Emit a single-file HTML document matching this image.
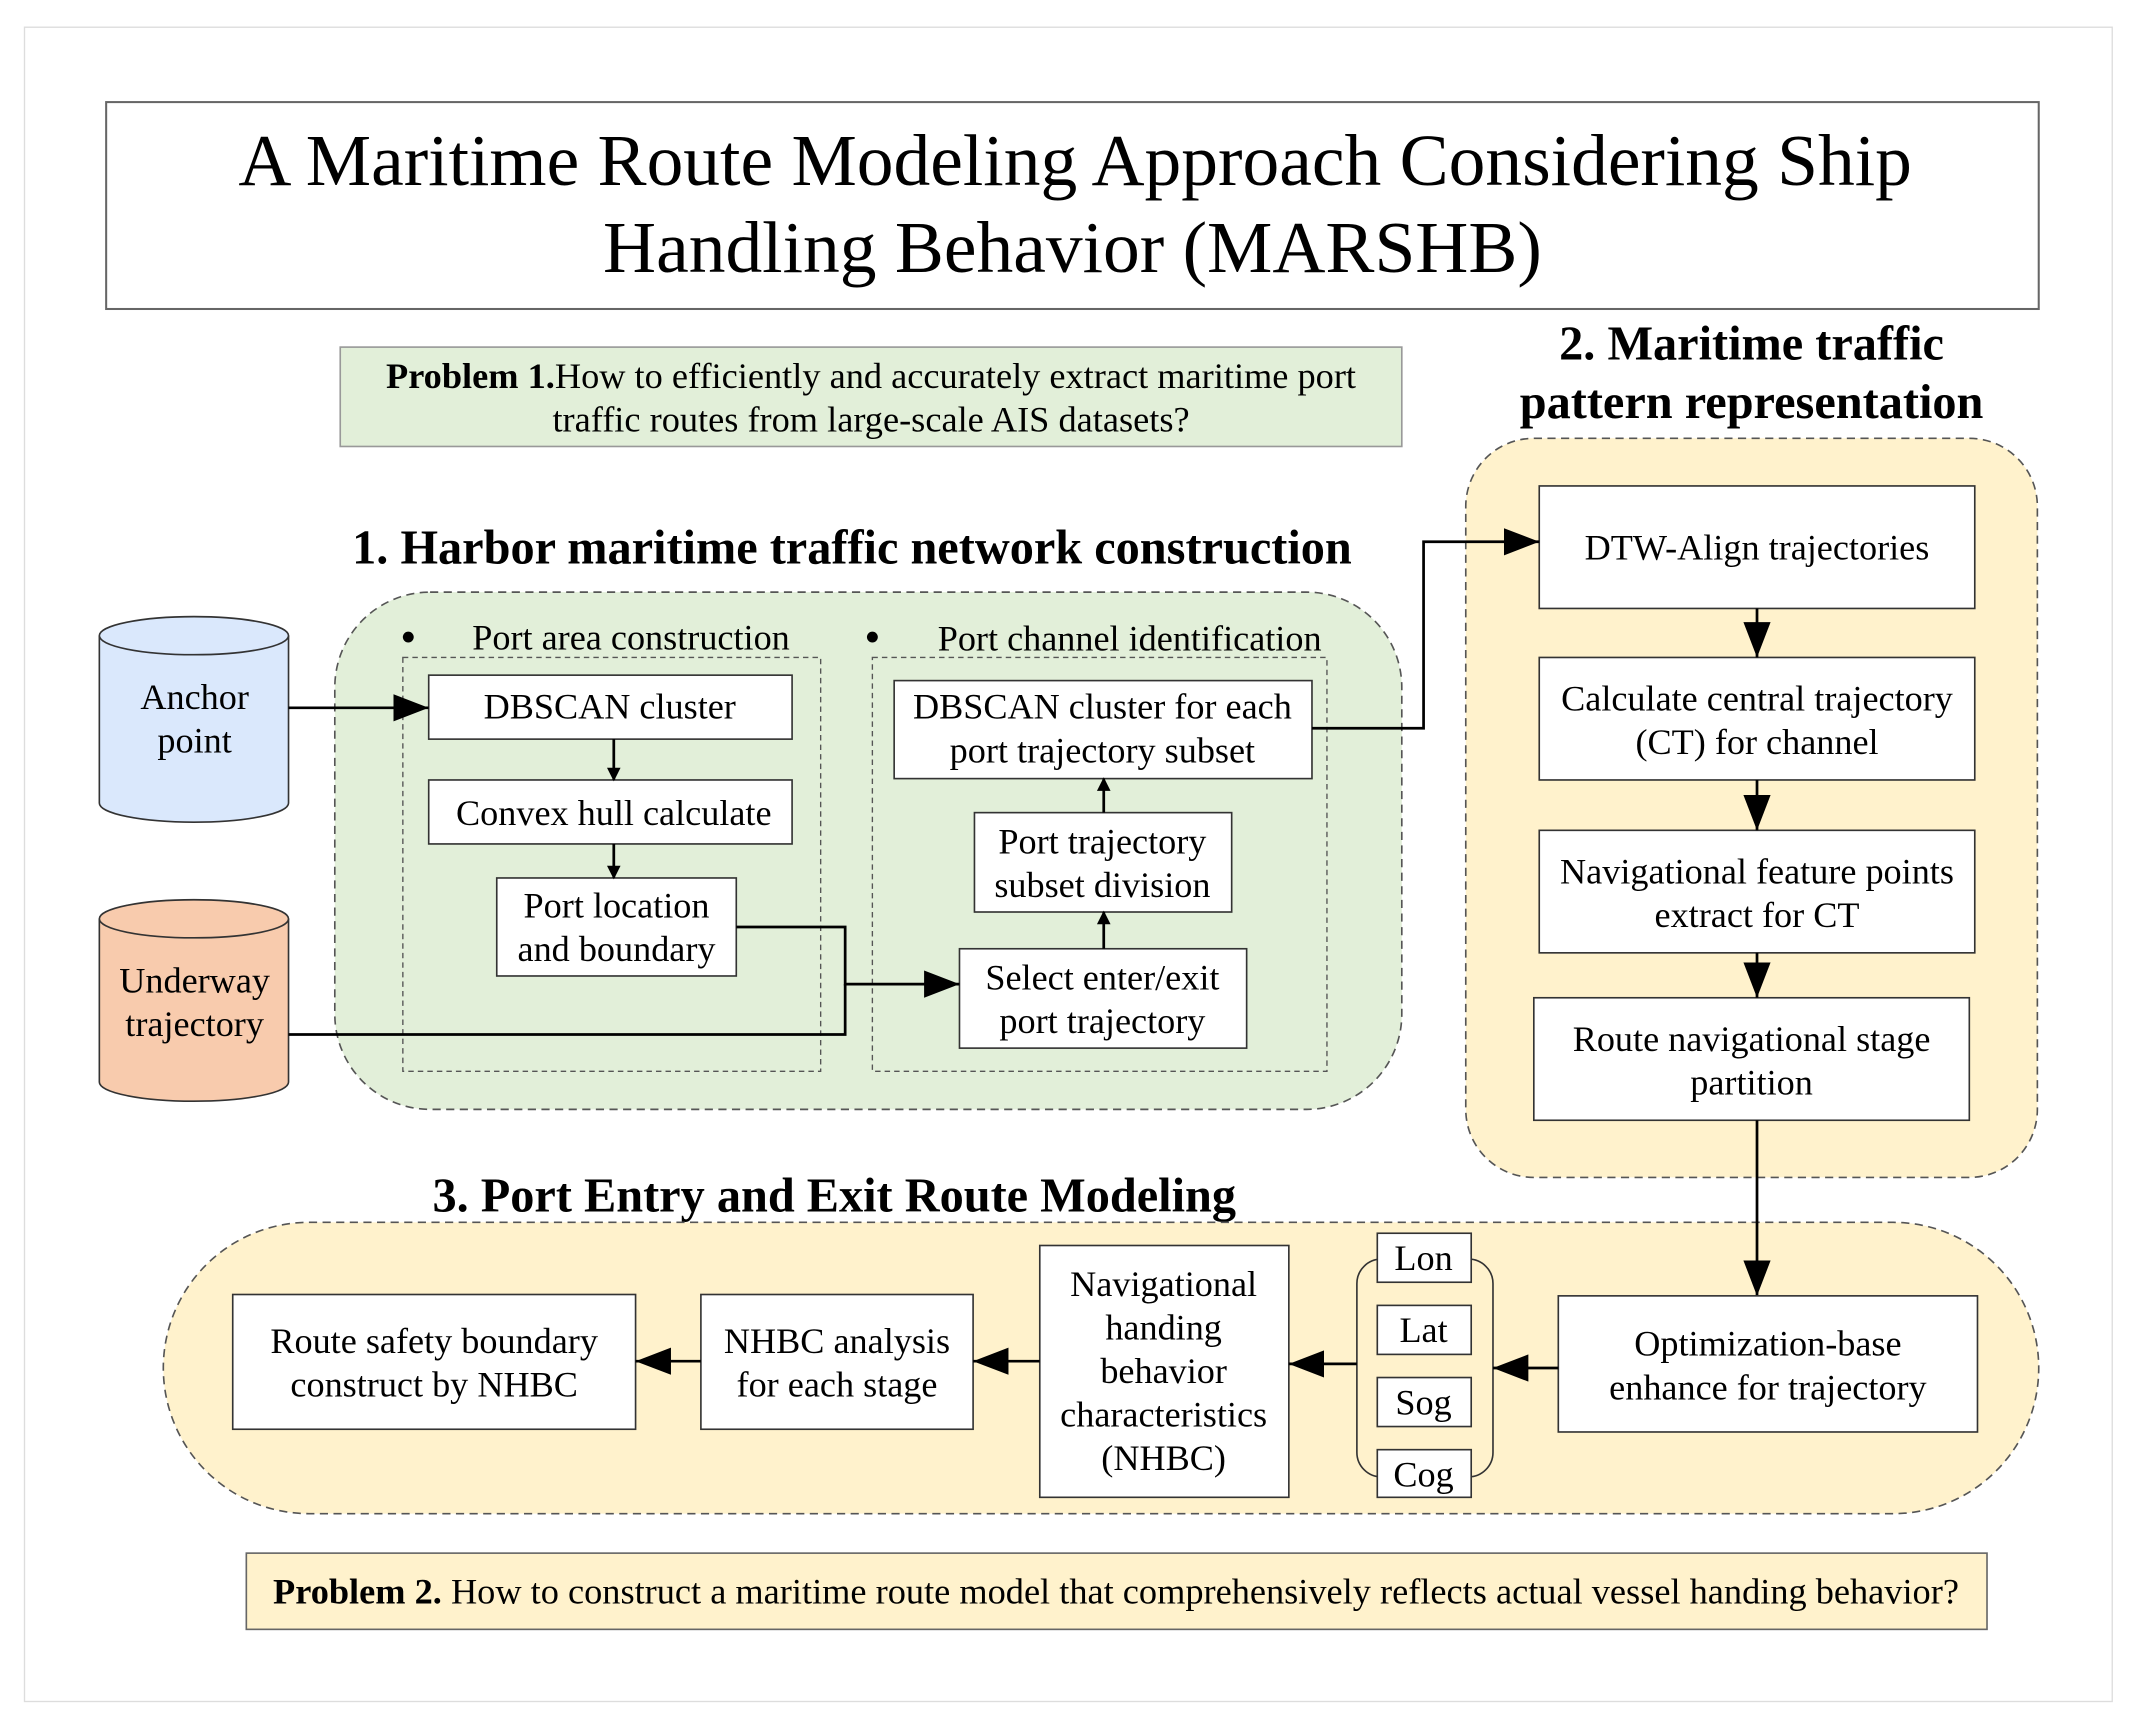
<!DOCTYPE html>
<html><head><meta charset="utf-8"><style>
html,body{margin:0;padding:0;background:#fff}
svg{display:block}
text{font-family:"Liberation Serif",serif;fill:#000}
</style></head><body>
<svg width="2134" height="1726" viewBox="0 0 1568 1268" preserveAspectRatio="none" xmlns="http://www.w3.org/2000/svg">
<defs>
<marker id="a" markerWidth="10" markerHeight="10" refX="9" refY="5" orient="auto" markerUnits="userSpaceOnUse" viewBox="0 0 10 10">
<path d="M0,0 L10,5 L0,10 z" fill="#000"/></marker>
<marker id="b" markerWidth="26" markerHeight="20" refX="26" refY="10" orient="auto" markerUnits="userSpaceOnUse" viewBox="0 0 26 20">
<path d="M0,0 L26,10 L0,20 z" fill="#000"/></marker>
</defs>
<rect x="18" y="20" width="1534" height="1230" fill="#fff" stroke="#ddd" stroke-width="1"/>
<rect x="78" y="75" width="1420" height="152" fill="#fff" stroke="#666" stroke-width="1.5"/>
<text x="790" y="136" font-size="54" text-anchor="middle">A Maritime Route Modeling Approach Considering Ship</text>
<text x="788" y="200" font-size="54" text-anchor="middle">Handling Behavior (MARSHB)</text>

<rect x="250" y="255" width="780" height="73" fill="#e2efd9" stroke="#999" stroke-width="1.2"/>
<text x="640" y="285" font-size="26.7" text-anchor="middle"><tspan font-weight="bold">Problem 1.</tspan>How to efficiently and accurately extract maritime port</text>
<text x="640" y="317" font-size="26.7" text-anchor="middle">traffic routes from large-scale AIS datasets?</text>

<text x="1287" y="264" font-size="35.5" font-weight="bold" text-anchor="middle">2. Maritime traffic</text>
<text x="1287" y="307" font-size="35.5" font-weight="bold" text-anchor="middle">pattern representation</text>
<rect x="1077" y="322" width="420" height="543" rx="50" fill="#fff2cc" stroke="#555" stroke-width="1.2" stroke-dasharray="6,4"/>

<text x="626" y="414" font-size="35.5" font-weight="bold" text-anchor="middle">1. Harbor maritime traffic network construction</text>
<rect x="246" y="435" width="784" height="380" rx="70" fill="#e2efd9" stroke="#555" stroke-width="1.2" stroke-dasharray="6,4"/>
<circle cx="300" cy="468" r="4"/><text x="347" y="477" font-size="26.6">Port area construction</text>
<circle cx="641" cy="468" r="4"/><text x="689" y="478" font-size="26.6">Port channel identification</text>
<rect x="296" y="483" width="307" height="304" fill="none" stroke="#555" stroke-dasharray="4,3"/>
<rect x="641" y="483" width="334" height="304" fill="none" stroke="#555" stroke-dasharray="4,3"/>

<g fill="#fff" stroke="#333" stroke-width="1.2">
<rect x="315" y="496" width="267" height="47"/>
<rect x="315" y="573" width="267" height="47"/>
<rect x="365" y="645" width="176" height="72"/>
<rect x="657" y="500" width="307" height="72"/>
<rect x="716" y="597" width="189" height="73"/>
<rect x="705" y="697" width="211" height="73"/>
<rect x="1131" y="357" width="320" height="90"/>
<rect x="1131" y="483" width="320" height="90"/>
<rect x="1131" y="610" width="320" height="90"/>
<rect x="1127" y="733" width="320" height="90"/>
</g>
<g font-size="26.6" text-anchor="middle">
<text x="448" y="528">DBSCAN cluster</text>
<text x="451" y="606">Convex hull calculate</text>
<text x="453" y="674">Port location</text><text x="453" y="706">and boundary</text>
<text x="810" y="528">DBSCAN cluster for each</text><text x="810" y="560">port trajectory subset</text>
<text x="810" y="627">Port trajectory</text><text x="810" y="659">subset division</text>
<text x="810" y="727">Select enter/exit</text><text x="810" y="759">port trajectory</text>
<text x="1291" y="411">DTW-Align trajectories</text>
<text x="1291" y="522">Calculate central trajectory</text><text x="1291" y="554">(CT) for channel</text>
<text x="1291" y="649">Navigational feature points</text><text x="1291" y="681">extract for CT</text>
<text x="1287" y="772">Route navigational stage</text><text x="1287" y="804">partition</text>
</g>

<path d="M73,467 L73,590 A69.5,14 0 0 0 212,590 L212,467" fill="#dae8fc" stroke="#333" stroke-width="1.2"/>
<ellipse cx="142.5" cy="467" rx="69.5" ry="14" fill="#dae8fc" stroke="#333" stroke-width="1.2"/>
<text x="143" y="521" font-size="26.6" text-anchor="middle">Anchor</text><text x="143" y="553" font-size="26.6" text-anchor="middle">point</text>
<path d="M73,675 L73,795 A69.5,14 0 0 0 212,795 L212,675" fill="#f8cbad" stroke="#333" stroke-width="1.2"/>
<ellipse cx="142.5" cy="675" rx="69.5" ry="14" fill="#f8cbad" stroke="#333" stroke-width="1.2"/>
<text x="143" y="729" font-size="26.6" text-anchor="middle">Underway</text><text x="143" y="761" font-size="26.6" text-anchor="middle">trajectory</text>

<g stroke="#000" stroke-width="2" fill="none">
<line x1="212" y1="520" x2="315" y2="520" marker-end="url(#b)"/>
<line x1="451" y1="543" x2="451" y2="573" marker-end="url(#a)"/>
<line x1="451" y1="620" x2="451" y2="645" marker-end="url(#a)"/>
<polyline points="541,681 621,681 621,723 705,723" marker-end="url(#b)"/>
<polyline points="212,760 621,760 621,723"/>
<line x1="811" y1="697" x2="811" y2="670" marker-end="url(#a)"/>
<line x1="811" y1="597" x2="811" y2="572" marker-end="url(#a)"/>
<polyline points="964,535 1046,535 1046,398 1131,398" marker-end="url(#b)"/>
<line x1="1291" y1="447" x2="1291" y2="483" marker-end="url(#b)"/>
<line x1="1291" y1="573" x2="1291" y2="610" marker-end="url(#b)"/>
<line x1="1291" y1="700" x2="1291" y2="733" marker-end="url(#b)"/>
</g>

<text x="613" y="890" font-size="35.5" font-weight="bold" text-anchor="middle">3. Port Entry and Exit Route Modeling</text>
<rect x="120" y="898" width="1378" height="214" rx="107" fill="#fff2cc" stroke="#555" stroke-width="1.2" stroke-dasharray="6,4"/>
<line x1="1291" y1="823" x2="1291" y2="952" stroke="#000" stroke-width="2" marker-end="url(#b)"/>

<rect x="997" y="925" width="100" height="160" rx="18" fill="none" stroke="#333" stroke-width="1.2"/>
<g fill="#fff" stroke="#333" stroke-width="1.2">
<rect x="1012" y="906" width="69" height="36"/>
<rect x="1012" y="959" width="69" height="36"/>
<rect x="1012" y="1012" width="69" height="36"/>
<rect x="1012" y="1065" width="69" height="35"/>
<rect x="1145" y="952" width="308" height="100"/>
<rect x="764" y="915" width="183" height="185"/>
<rect x="515" y="951" width="200" height="99"/>
<rect x="171" y="951" width="296" height="99"/>
</g>
<g font-size="26.6" text-anchor="middle">
<text x="1046" y="933">Lon</text>
<text x="1046" y="986">Lat</text>
<text x="1046" y="1039">Sog</text>
<text x="1046" y="1092">Cog</text>
<text x="1299" y="996">Optimization-base</text><text x="1299" y="1028">enhance for trajectory</text>
<text x="855" y="952">Navigational</text><text x="855" y="984">handing</text><text x="855" y="1016">behavior</text><text x="855" y="1048">characteristics</text><text x="855" y="1080">(NHBC)</text>
<text x="615" y="994">NHBC analysis</text><text x="615" y="1026">for each stage</text>
<text x="319" y="994">Route safety boundary</text><text x="319" y="1026">construct by NHBC</text>
</g>
<g stroke="#000" stroke-width="2" fill="none">
<line x1="1145" y1="1005" x2="1097" y2="1005" marker-end="url(#b)"/>
<line x1="997" y1="1002" x2="947" y2="1002" marker-end="url(#b)"/>
<line x1="764" y1="1000" x2="715" y2="1000" marker-end="url(#b)"/>
<line x1="515" y1="1000" x2="467" y2="1000" marker-end="url(#b)"/>
</g>

<rect x="181" y="1141" width="1279" height="56" fill="#fff2cc" stroke="#666" stroke-width="1.2"/>
<text x="820" y="1178" font-size="26.7" text-anchor="middle"><tspan font-weight="bold">Problem 2.</tspan> How to construct a maritime route model that comprehensively reflects actual vessel handing behavior?</text>
</svg>
</body></html>
